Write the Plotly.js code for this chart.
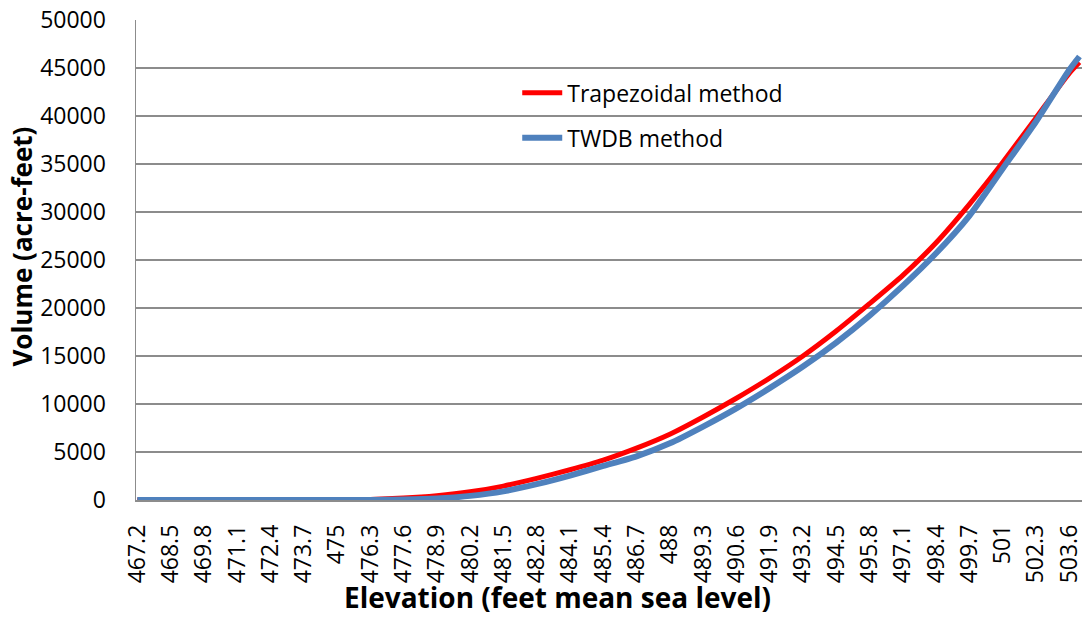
<!DOCTYPE html>
<html>
<head>
<meta charset="utf-8">
<script src="https://cdn.plot.ly/plotly-3.0.1.min.js"></script>
<style>html,body{margin:0;padding:0;background:#fff;}#chart{width:1086px;height:622px;}</style>
</head>
<body>
<div id="chart"></div>
<script>
// Elevation (feet mean sea level)
const elevation = [467.2, 468.5, 469.8, 471.1, 472.4, 473.7, 475.0, 476.3, 477.6, 478.9, 480.2, 481.5, 482.8, 484.1, 485.4, 486.7, 488.0, 489.3, 490.6, 491.9, 493.2, 494.5, 495.8, 497.1, 498.4, 499.7, 501.0, 502.3, 503.6, 504.0];
// Volume (acre-feet), Trapezoidal method
const trapezoidal = [0, 0, 0, 0, 0, 0, 5, 60, 200, 450, 850, 1450, 2250, 3150, 4150, 5400, 6850, 8650, 10600, 12700, 15000, 17600, 20450, 23400, 26800, 30800, 35150, 39800, 44450, 45600];
// Volume (acre-feet), TWDB method
const twdb = [0, 0, 0, 0, 0, 0, 0, 0, 40, 150, 430, 900, 1650, 2550, 3550, 4550, 5900, 7650, 9550, 11650, 13900, 16400, 19200, 22300, 25700, 29600, 34500, 39400, 44800, 46200];
// Category tick labels
const tickLabels = ["467.2","468.5","469.8","471.1","472.4","473.7","475","476.3","477.6","478.9","480.2","481.5","482.8","484.1","485.4","486.7","488","489.3","490.6","491.9","493.2","494.5","495.8","497.1","498.4","499.7","501","502.3","503.6"];
const tickValues = tickLabels.map(Number);
const yTicks = [0, 5000, 10000, 15000, 20000, 25000, 30000, 35000, 40000, 45000, 50000];

const FONT = "Open Sans, Liberation Sans, sans-serif";
const traces = [
  {x: elevation, y: trapezoidal, name: "Trapezoidal method", type: "scatter", mode: "lines",
   line: {color: "#FF0000", width: 5, shape: "spline", smoothing: 0.6}, legendgroup: "a"},
  {x: elevation, y: twdb, name: "TWDB method", type: "scatter", mode: "lines",
   line: {color: "#4F81BD", width: 6, shape: "spline", smoothing: 0.6}, legendgroup: "b"}
];
const layout = {
  width: 1086, height: 622,
  margin: {l: 136, r: 4, t: 20, b: 122},
  paper_bgcolor: "#fff", plot_bgcolor: "#fff",
  font: {family: FONT, size: 23, color: "#000"},
  showlegend: true,
  legend: {x: 0.403, y: 0.893, xanchor: "left", yanchor: "top", bgcolor: "rgba(0,0,0,0)",
           font: {family: FONT, size: 23, color: "#000"}, traceorder: "grouped", tracegroupgap: 12,
           itemwidth: 40},
  xaxis: {type: "linear", range: [467.15, 504.1], tickmode: "array", tickvals: tickValues, ticktext: tickLabels,
          tickangle: -90, showgrid: false, zeroline: false, showline: true, linecolor: "#8c8c8c", linewidth: 1.5,
          ticks: "", ticklabelstandoff: 14, tickfont: {family: FONT, size: 23}},
  yaxis: {range: [0, 50000], tickmode: "array", tickvals: yTicks, ticktext: yTicks.map(String),
          showgrid: true, gridcolor: "#8c8c8c", gridwidth: 1.5, zeroline: false, showline: true,
          linecolor: "#8c8c8c", linewidth: 1.5, ticks: "", ticklabelstandoff: 24,
          tickfont: {family: FONT, size: 23}},
  annotations: [
    {text: "<b>Elevation (feet mean sea level)</b>", xref: "paper", yref: "paper", x: 0.4457, y: -0.202,
     xanchor: "center", yanchor: "middle", showarrow: false, font: {family: FONT, size: 28, color: "#000"}},
    {text: "<b>Volume (acre-feet)</b>", xref: "paper", yref: "paper", x: -0.12, y: 0.529,
     xanchor: "center", yanchor: "middle", textangle: -90, showarrow: false, font: {family: FONT, size: 26, color: "#000"}}
  ]
};
Plotly.newPlot("chart", traces, layout, {displayModeBar: false, staticPlot: true});
</script>
</body>
</html>
